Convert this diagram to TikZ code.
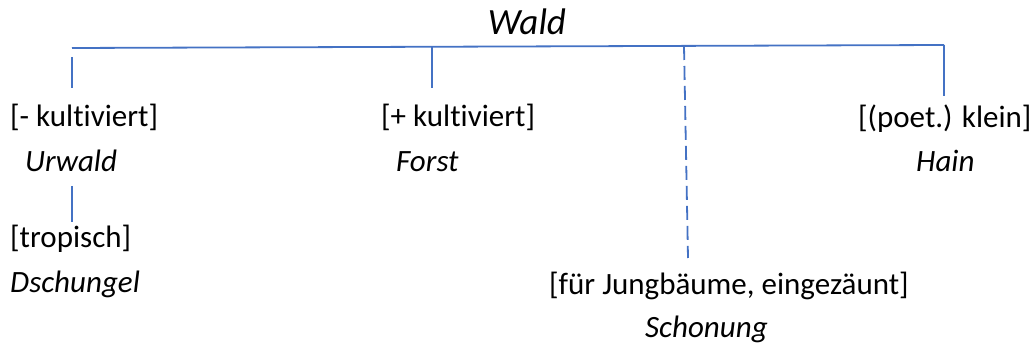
\documentclass[tikz,border=0pt]{standalone}
\usepackage{fontspec}
\setmainfont{Carlito}[Ligatures=NoCommon]
\definecolor{branch}{HTML}{4472C4}
\tikzset{
  lbl/.style={anchor=base west, inner sep=0pt, font=\fontsize{31}{37}\selectfont},
  lex/.style={lbl, font=\fontsize{31}{37}\selectfont\itshape},
  edge/.style={draw=branch, line width=1.8pt},
  weak/.style={edge, dash pattern=on 14pt off 6pt}
}
\begin{document}
\begin{tikzpicture}[x=1pt,y=-1pt]
\useasboundingbox (0,0) rectangle (1034,347);
% root and its bar
\node[lex, anchor=base, font=\fontsize{37}{44}\selectfont\itshape] (wald) at (527,35) {Wald};
\coordinate (barL) at (72,48);
\coordinate (barR) at (944,45);
\draw[edge] (barL) -- (barR);
% branch points on the bar
\coordinate (bF) at (432,47);
\coordinate (bS) at (684,46);
\coordinate (bH) at (944,45);
% daughters
\node[lbl] (minus) at (10,127) {[- kultiviert]};
\node[lex] (urwald) at (25,172) {Urwald};
\node[lbl] (trop) at (10,248) {[tropisch]};
\node[lex] (dsch) at (10,293) {Dschungel};
\node[lbl] (plus) at (381,127) {[+ kultiviert]};
\node[lex] (forst) at (396,172) {Forst};
\node[lbl] (poet) at (858,128) {[(poet.) klein]};
\node[lex] (hain) at (916,172) {Hain};
\node[lbl] (jung) at (549,295) {[für Jungbäume, eingezäunt]};
\node[lex] (schon) at (645,338) {Schonung};
% connectors
\coordinate (uTop) at (72,57);
\coordinate (uBot) at (72,88);
\draw[edge] (uTop) -- (uBot);
\coordinate (fBot) at (432,88);
\draw[edge] (bF) -- (fBot);
\coordinate (sBot) at (688,258);
\draw[weak] (bS) -- (sBot);
\coordinate (hBot) at (944,96);
\draw[edge] (bH) -- (hBot);
\coordinate (dTop) at (72,186);
\coordinate (dBot) at (72,222);
\draw[edge] (dTop) -- (dBot);
\end{tikzpicture}
\end{document}
